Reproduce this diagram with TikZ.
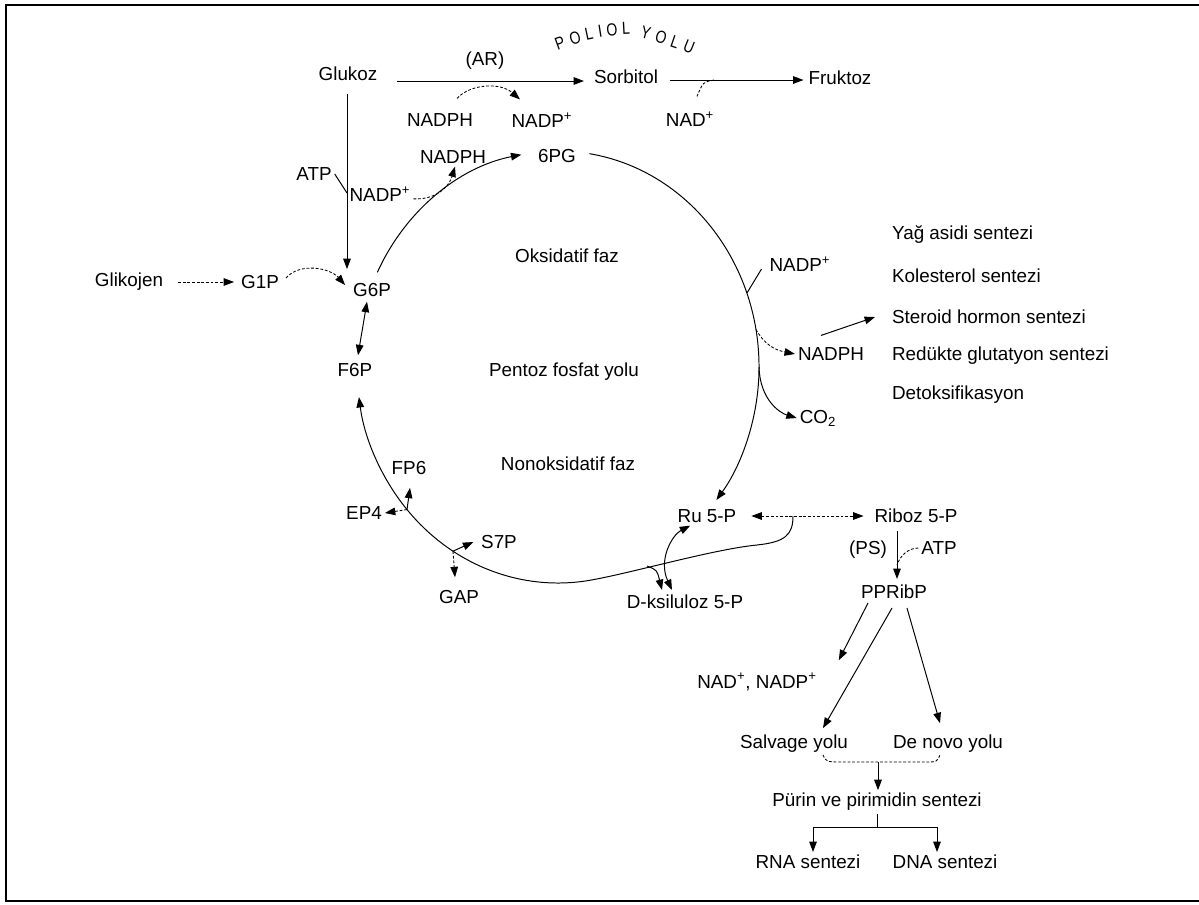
\documentclass[tikz,border=0pt]{standalone}
\usepackage{fontspec}
\setmainfont{Liberation Sans}
\newfontfamily\polfont[FakeStretch=0.8]{Liberation Sans}
\usepackage{tikz}
\usetikzlibrary{arrows.meta,positioning,calc}

\tikzset{
  lbl/.style={inner sep=2pt, font=\fontsize{13.4}{15}\selectfont},
  ln/.style={line width=0.7pt},
  arr/.style={ln, -{Triangle[length=2.6mm,width=1.9mm]}},
  darr/.style={ln, {Triangle[length=2.6mm,width=1.9mm]}-{Triangle[length=2.6mm,width=1.9mm]}},
  dsh/.style={dash pattern=on 2pt off 1.3pt, line width=0.6pt},
}

\begin{document}
\begin{tikzpicture}[x=0.025cm, y=-0.025cm]
\useasboundingbox (0,0) rectangle (1199,904);
% Frame
\draw[line width=1.4pt] (1199,5) -- (6,5) -- (6,901) -- (1199,901);

% Poliol yolu (curved title, one letter at a time)
\foreach \ch/\px/\py/\rot [count=\i] in {P/560/43/20, O/575/38/17, L/589/34/12, I/600/31.5/9, O/612/29.5/6, L/626/28/3, Y/646/33/-14, O/661/37/-17, L/675/42/-19, U/689/47/-22}
  \node[inner sep=0pt, font=\polfont\fontsize{12.5}{14}\selectfont, rotate=\rot] (poliol\i) at (\px,\py) {\ch};
\node[lbl] (glukoz) at (348,74) {Glukoz};
\node[lbl] (ar) at (485,61) {(AR)};
\node[lbl] (sorbitol) at (626,77) {Sorbitol};
\node[lbl] (fruktoz) at (840,78) {Fruktoz};
\node[lbl] (nadB) at (690,119) {NAD\textsuperscript{+}};
\node[lbl] (nadphA) at (440,120) {NADPH};
\node[lbl] (nadpA) at (542,120) {NADP\textsuperscript{+}};
\coordinate (nadjn) at (714,80);
\draw[arr] ([shift={(17,7)}]glukoz.east) -- ([shift={(-7,4)}]sorbitol.west);
\draw[arr] ([shift={(9,3)}]sorbitol.east) -- ([shift={(-2,2)}]fruktoz.west);
\draw[dsh] (nadjn) .. controls (703,82) .. ([shift={(7,-12)}]nadB.north);
\draw[arr, dsh] ([shift={(17,-12)}]nadphA.north) .. controls (470,84) and (500,82) .. ([shift={(-22,-10)}]nadpA.north);

% Oksidatif faz
\node[lbl] (nadphB) at (453,157) {NADPH};
\node[lbl] (pg6) at (557,156) {6PG};
\node[lbl] (atpA) at (314,174) {ATP};
\node[lbl] (nadpL) at (380,194) {NADP\textsuperscript{+}};
\node[lbl] (glikojen) at (129,282) {Glikojen};
\node[lbl] (g1p) at (260,282) {G1P};
\node[lbl] (g6p) at (372,290) {G6P};
\node[lbl] (f6p) at (355,370) {F6P};
\node[lbl] (oks) at (567,256) {Oksidatif faz};
\node[lbl] (pentoz) at (564,372) {Pentoz fosfat yolu};
\node[lbl] (nonoks) at (568,464) {Nonoksidatif faz};

% points on the cycle
\coordinate (cA) at ({558+201*cos(206)},{367+216*sin(206)});
\coordinate (cB) at ({558+201*cos(279)},{367+216*sin(279)});
\coordinate (cN) at ({558+201*cos(340)},{367+216*sin(340)});
\coordinate (cH) at ({558+201*cos(350)},{367+216*sin(350)});
\coordinate (cC) at ({558+201*cos(0)},{367+216*sin(0)});
\coordinate (cF) at ({558+201*cos(80)},{367+216*sin(80)});
\coordinate (cE) at ({558+201*cos(138.7)},{367+216*sin(138.7)});
\coordinate (cS) at ({558+201*cos(121.5)},{367+216*sin(121.5)});
\coordinate (atpjn) at (347,193);

\draw[arr] ([yshift=-0.25cm]glukoz.south -| atpjn) -- ([yshift=0.28cm]g6p.north -| atpjn);
\draw[ln] (atpA.east) -- (atpjn);
\draw[arr, dsh] ([yshift=-0.12cm]nadpL.east) .. controls (432,200) and (448,190) .. ([xshift=0.05cm]nadphB.south);
\draw[arr] (cA) arc[start angle=206, end angle=259.5, x radius=201, y radius=216];
\draw[arr, dsh] ([xshift=0.3cm]glikojen.east) -- ([xshift=-0.1cm]g1p.west);
\draw[arr, dsh] ([shift={(4,-4)}]g1p.east) .. controls (300,262) and (330,268) .. ([shift={(-5,-5)}]g6p.west);
\draw[darr] ([shift={(-5,2)}]g6p.south) -- ([shift={(3,-5)}]f6p.north);

% NADPH uretimi
\node[lbl] (nadpR) at (800,264) {NADP\textsuperscript{+}};
\node[lbl] (nadphR) at (831,354) {NADPH};
\node[lbl] (co2) at (818,418) {CO\textsubscript{2}};
\node[lbl, anchor=west] (yag) at (889,234) {Yağ asidi sentezi};
\node[lbl, anchor=west] (kol) at (889,276) {Kolesterol sentezi};
\node[lbl, anchor=west] (ster) at (889,317) {Steroid hormon sentezi};
\node[lbl, anchor=west] (red) at (889,356) {Redükte glutatyon sentezi};
\node[lbl, anchor=west] (detok) at (889,395) {Detoksifikasyon};
\draw[arr] (cB) arc[start angle=279, end angle=398, x radius=201, y radius=216];
\draw[ln] ([shift={(-5,5)}]nadpR.west) -- (cN);
\draw[arr, dsh] (cH) .. controls (765,345) and (775,350) .. (nadphR.west);
\draw[arr] (cC) .. controls (760,400) and (780,413) .. (co2.west);
\draw[arr] ([shift={(-10,-9)}]nadphR.north) -- ([xshift=-0.35cm]ster.west);

% Nonoksidatif faz
\node[lbl] (fp6) at (409,468) {FP6};
\node[lbl] (ep4) at (364,513) {EP4};
\node[lbl] (s7p) at (499,542) {S7P};
\node[lbl] (gap) at (459,597) {GAP};
\node[lbl] (dksil) at (685,602) {D-ksiluloz 5-P};
\node[lbl] (ru5p) at (707,516) {Ru 5-P};
\node[lbl] (riboz) at (916,516) {Riboz 5-P};
\coordinate (rjn) at (793,516);
\coordinate (bjn) at (647,566);
\draw[arr] (rjn) .. controls (793,535) and (785,542) .. (757,545) .. controls (715,549) and (635,572) .. (cF) arc[start angle=80, end angle=172, x radius=201, y radius=216];
\draw[arr] (cE) -- ([shift={(1,10)}]fp6.south);
\draw[arr, dsh] (cE) -- (ep4.east);
\draw[arr] (cS) -- ([xshift=-0.12cm]s7p.west);
\draw[arr, dsh] (cS) -- ([shift={(-4,-10)}]gap.north);
\draw[arr] (bjn) .. controls (657,570) .. ([shift={(-23,-2)}]dksil.north);
\draw[darr] ([xshift=-0.42cm]ru5p.south) .. controls (672,535) and (658,560) .. ([shift={(-13,-2)}]dksil.north);
\draw[darr, dsh] ([xshift=0.3cm]ru5p.east) -- ([xshift=-0.2cm]riboz.west);

% Nukleotid sentezi
\node[lbl] (ps) at (868,550) {(PS)};
\node[lbl] (atpB) at (939,548) {ATP};
\node[lbl] (ppribp) at (894,592) {PPRibP};
\node[lbl] (nadnadp) at (757,682) {NAD\textsuperscript{+}, NADP\textsuperscript{+}};
\node[lbl] (salvage) at (794,744) {Salvage yolu};
\node[lbl] (denovo) at (948,744) {De novo yolu};
\node[lbl] (purin) at (877,802) {Pürin ve pirimidin sentezi};
\node[lbl] (rna) at (808,862) {RNA sentezi};
\node[lbl] (dna) at (945,862) {DNA sentezi};
\coordinate (psjn) at (897,565);
\coordinate (brk) at (878,762);
\coordinate (tl) at (813,827);
\coordinate (tr) at (937,827);
\draw[arr] ([shift={(3,5)}]riboz.south -| ppribp.north) -- ([shift={(3,-3)}]ppribp.north);
\draw[dsh] (atpB.west) .. controls (908,548) and (900,556) .. (psjn);
\draw[arr] ([shift={(-26,1)}]ppribp.south) -- ([shift={(19,-10)}]nadnadp.north east);
\draw[arr] ([shift={(-2,6)}]ppribp.south) -- ([shift={(29,-4)}]salvage.north);
\draw[arr] ([shift={(13,6)}]ppribp.south) -- ([shift={(-8,-9)}]denovo.north);
\draw[dsh] ([shift={(29,-1)}]salvage.south) .. controls (826,762) .. (845,762) -- (925,762) .. controls (937,762) .. ([shift={(-8,-1)}]denovo.south);
\draw[arr] (brk) -- (brk |- purin.north);
\draw[ln] (purin.south) -- (purin.south |- tl);
\draw[ln] (tl) -- (tr);
\draw[arr] (tl) -- (tl |- rna.north);
\draw[arr] (tr) -- (tr |- dna.north);
\end{tikzpicture}
\end{document}
